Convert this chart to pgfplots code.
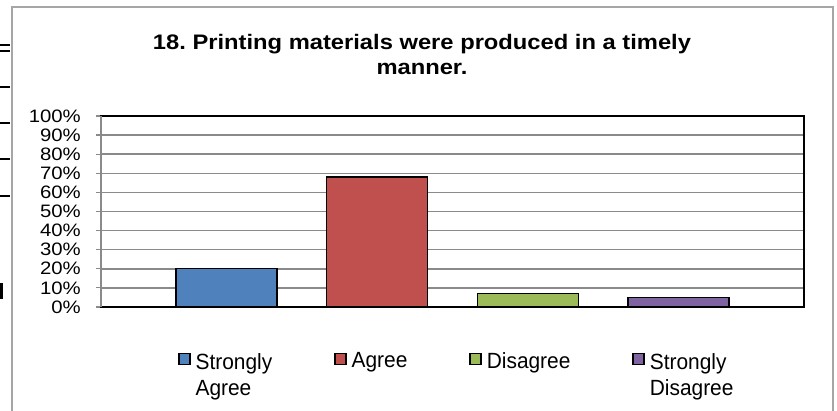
\documentclass[border=0pt]{standalone}
\usepackage{pgfplots}
\pgfplotsset{compat=1.18}
\usepackage{fontspec}
\setmainfont{Liberation Sans}[FakeStretch=1.13]
\newfontfamily\legfont{Liberation Sans}[FakeStretch=0.95]
\definecolor{c1}{HTML}{4F81BD}
\definecolor{c2}{HTML}{C0504D}
\definecolor{c3}{HTML}{9BBB59}
\definecolor{c4}{HTML}{8064A2}
\definecolor{gridc}{HTML}{8A8A8A}
\definecolor{borderc}{HTML}{A6A6A6}
\pgfplotsset{sq legend/.style={legend image code/.code={\draw[##1,draw=black,line width=1.4pt] (0pt,-3.5pt) rectangle (11pt,7.5pt);}}}
\begin{document}
\frenchspacing
\begin{tikzpicture}[x=1pt,y=1pt]
\useasboundingbox (0,0) rectangle (837,411);
% outer frame
\draw[borderc, line width=2.2pt] (12,-5) -- (12,404) -- (833,404) -- (833,-5);
% page artifacts at left edge
\draw[black, line width=2pt] (0,366) -- (10,366);
\draw[black, line width=2pt] (0,360) -- (10,360);
\draw[black, line width=2pt] (0,324) -- (10,324);
\draw[black, line width=2pt] (0,288) -- (10,288);
\draw[black, line width=2pt] (0,252) -- (10,252);
\draw[black, line width=2pt] (0,215) -- (10,215);
\fill[black] (0,112) rectangle (3,128);
% title
\node[font=\fontsize{21}{25}\selectfont\bfseries, anchor=base, inner sep=0pt] at (422,361) {18.\ Printing materials were produced in a timely};
\node[font=\fontsize{21}{25}\selectfont\bfseries, anchor=base, inner sep=0pt] at (422,336) {manner.};
\begin{axis}[
  at={(101pt,104pt)}, anchor=south west,
  scale only axis, width=703pt, height=191pt,
  xmin=-0.833, xmax=3.833, ymin=0, ymax=100,
  xtick=\empty,
  ytick={0,10,...,100},
  yticklabels={0\%,10\%,20\%,30\%,40\%,50\%,60\%,70\%,80\%,90\%,100\%},
  ytick pos=left, tick align=outside, major tick length=5pt,
  tick style={gridc, line width=1.2pt},
  ymajorgrids, major grid style={gridc, line width=1.5pt},
  axis line style={black, line width=1.6pt},
  yticklabel style={font=\fontsize{18}{19}\selectfont, inner sep=0pt, anchor=east, xshift=-15pt},
  legend columns=4,
  legend style={at={(axis description cs:0.1095,-0.22)}, anchor=north west, draw=none,
    inner sep=0pt, font=\legfont\fontsize{22}{26}\selectfont,
    /tikz/every odd column/.append style={column sep=3pt},
    /tikz/every even column/.append style={column sep=60pt}},
  legend cell align=left,
  clip=false,
]
\addplot[ybar, bar width=101pt, bar shift=0pt, fill=c1, draw=black, line width=1.4pt, sq legend] coordinates {(0,20)};
\addlegendentry{\begin{tabular}[t]{@{}l@{}}Strongly\\Agree\end{tabular}}
\addplot[ybar, bar width=101pt, bar shift=0pt, fill=c2, draw=black, line width=1.4pt, sq legend] coordinates {(1,68)};
\addlegendentry{Agree}
\addplot[ybar, bar width=101pt, bar shift=0pt, fill=c3, draw=black, line width=1.4pt, sq legend] coordinates {(2,7)};
\addlegendentry{Disagree}
\addplot[ybar, bar width=101pt, bar shift=0pt, fill=c4, draw=black, line width=1.4pt, sq legend] coordinates {(3,5)};
\addlegendentry{\begin{tabular}[t]{@{}l@{}}Strongly\\Disagree\end{tabular}}
\draw[gridc, line width=2pt] (rel axis cs:0,0) -- (rel axis cs:0,1);
\end{axis}
\end{tikzpicture}
\end{document}
